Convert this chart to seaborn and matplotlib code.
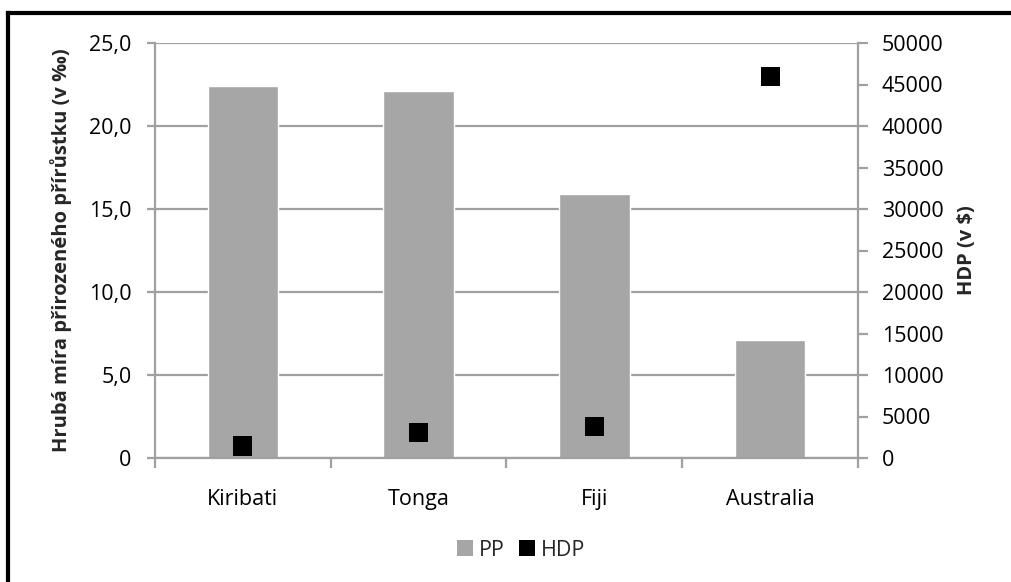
import matplotlib
matplotlib.use("Agg")
import matplotlib.pyplot as plt
import matplotlib.ticker as mticker
from matplotlib.patches import Patch
from matplotlib.lines import Line2D
import numpy as np
import pandas as pd
import seaborn as sns

# Data
countries = ["Kiribati", "Tonga", "Fiji", "Australia"]
pp_values = [22.4, 22.1, 15.9, 7.1]          # gross natural increase rate (per mille)
hdp_values = [1450, 3100, 3800, 46000]       # GDP per capita (USD)
left_ticks = [0, 5, 10, 15, 20, 25]
left_tick_labels = ["0", "5,0", "10,0", "15,0", "20,0", "25,0"]
right_ticks = [0, 5000, 10000, 15000, 20000, 25000, 30000, 35000, 40000, 45000, 50000]

df = pd.DataFrame({"country": countries, "PP": pp_values, "HDP": hdp_values})

sns.set_theme(style="white")
plt.rcParams["font.family"] = ["Open Sans", "DejaVu Sans"]

BAR = "#a6a6a6"
LINE = "#a0a0a0"
FS = 15.5
LFS = 14.5

W, H = 1012, 582
fig = plt.figure(figsize=(W / 100, H / 100), dpi=100)
ax = fig.add_axes([155 / W, 1 - 458 / H, (858 - 155) / W, (458 - 43) / H])

sns.barplot(data=df, x="country", y="PP", color=BAR, width=0.4, saturation=1,
            ax=ax, zorder=2)
ax.set_xlim(-0.5, 3.5)
ax.set_ylim(0, 25)
ax.set_yticks(left_ticks)
ax.yaxis.set_major_formatter(mticker.FixedFormatter(left_tick_labels))
ax.yaxis.grid(True, color=LINE, linewidth=1.6, zorder=0)
ax.set_axisbelow(True)

for s in ["top", "right"]:
    ax.spines[s].set_visible(False)
for s in ["left", "bottom"]:
    ax.spines[s].set_color(LINE)
    ax.spines[s].set_linewidth(1.6)

ax.tick_params(axis="y", which="major", direction="out", length=6, width=1.6,
               color=LINE, pad=11, labelsize=FS, labelcolor="black", left=True)
# category labels centred, boundary ticks between categories
ax.tick_params(axis="x", which="major", length=0, pad=22, labelsize=FS, labelcolor="black")
ax.set_xticks(np.arange(-0.5, 4.0, 1.0), minor=True)
ax.tick_params(axis="x", which="minor", direction="out", length=7, width=1.6,
               color=LINE, bottom=True)
ax.set_xlabel("")
ax.set_ylabel("Hrubá míra přirozeného přírůstku (v ‰)", fontsize=LFS, fontweight="bold",
              labelpad=12)

ax2 = ax.twinx()
sns.scatterplot(data=df, x="country", y="HDP", marker="s", s=190, color="black",
                edgecolor="none", ax=ax2, zorder=3, legend=False)
ax2.set_xlim(-0.5, 3.5)
ax2.set_ylim(0, 50000)
ax2.set_yticks(right_ticks)
for s in ["top", "left", "bottom"]:
    ax2.spines[s].set_visible(False)
ax2.spines["right"].set_color(LINE)
ax2.spines["right"].set_linewidth(1.6)
ax2.tick_params(axis="y", direction="out", length=7, width=1.6, color=LINE, pad=10,
                labelsize=FS, labelcolor="black", right=True)
ax2.set_ylabel("HDP (v $)", fontsize=LFS, fontweight="bold", labelpad=10)
ax2.grid(False)

handles = [Patch(facecolor=BAR, edgecolor="none", label="PP"),
           Patch(facecolor="black", edgecolor="none", label="HDP")]
fig.legend(handles=handles, loc="center", bbox_to_anchor=(521 / W, 1 - 550 / H),
           ncol=2, frameon=False, fontsize=FS, handlelength=0.75, handleheight=0.75,
           handletextpad=0.25, columnspacing=0.7)

# outer frame (top and left edges)
fig.add_artist(Line2D([8 / W, 1.0], [1 - 13 / H, 1 - 13 / H], color="black",
                      linewidth=3, transform=fig.transFigure, solid_capstyle="projecting"))
fig.add_artist(Line2D([8 / W, 8 / W], [1 - 13 / H, 0.0], color="black",
                      linewidth=3, transform=fig.transFigure, solid_capstyle="projecting"))

fig.savefig("out.png", dpi=100)
